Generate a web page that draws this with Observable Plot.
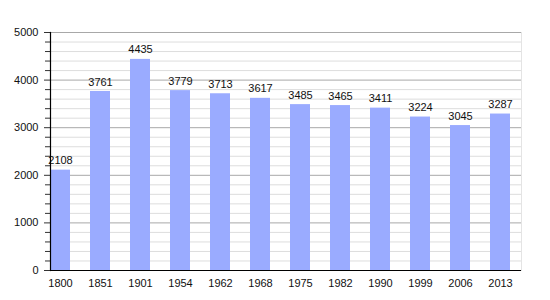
<!DOCTYPE html>
<html>
<head>
<meta charset="utf-8">
<script src="https://cdn.jsdelivr.net/npm/d3@7"></script>
<script src="https://cdn.jsdelivr.net/npm/@observablehq/plot@0.6"></script>
<style>
  html, body { margin: 0; padding: 0; background: #fff; }
  #chart svg { display: block; }
</style>
</head>
<body>
<div id="chart"></div>
<script>
const years = ["1800","1851","1901","1954","1962","1968","1975","1982","1990","1999","2006","2013"];
const population = [2108, 3761, 4435, 3779, 3713, 3617, 3485, 3465, 3411, 3224, 3045, 3287];
const majorTicks = [0, 1000, 2000, 3000, 4000, 5000];
const minorTicks = d3.range(0, 5001, 200).filter(v => v % 1000 !== 0);

const data = years.map((y, i) => ({year: y, value: population[i]}));

const chart = Plot.plot({
  width: 550,
  height: 300,
  marginLeft: 50,
  marginRight: 29,
  marginTop: 32,
  marginBottom: 30,
  style: {fontFamily: "Liberation Sans, Arial, sans-serif", fontSize: "11px", background: "#fff", color: "#222"},
  x: {domain: years, paddingInner: 0.49, paddingOuter: 0, align: 0, label: null},
  y: {domain: [0, 5000], label: null},
  marks: [
    Plot.ruleY(minorTicks, {stroke: "#dddddd", strokeWidth: 1}),
    Plot.ruleY(majorTicks.filter(d => d > 0), {stroke: "#a8a8a8", strokeWidth: 1}),
    Plot.frame({anchor: "right", stroke: "#e4e4e4"}),
    Plot.barY(data, {x: "year", y: "value", fill: "#9aabff"}),
    Plot.text(data, {x: "year", y: "value", text: d => String(d.value), dy: -9.5, fill: "#111", fontSize: 11}),
    Plot.axisY(minorTicks, {tickSize: 5, text: null, stroke: "#333"}),
    Plot.axisY(majorTicks, {tickSize: 6, tickPadding: 6, tickFormat: "d", fill: "#111", fontSize: 11, stroke: "#333", label: null}),
    Plot.axisX({tickSize: 0, tickPadding: 9, fill: "#111", fontSize: 11, label: null}),
    Plot.ruleY([0], {stroke: "#000", strokeWidth: 1.2}),
    Plot.frame({anchor: "left", stroke: "#000", strokeWidth: 1.2})
  ]
});
document.getElementById("chart").appendChild(chart);
</script>
</body>
</html>
